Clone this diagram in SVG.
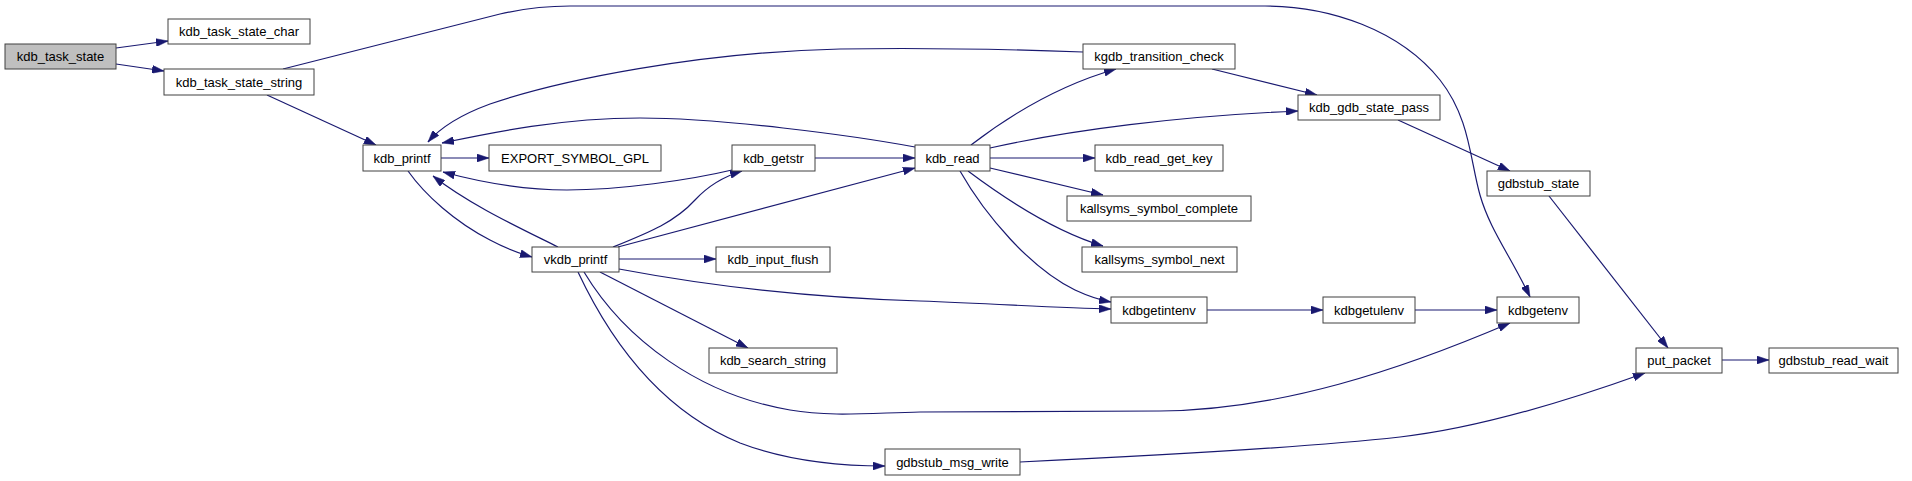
<svg xmlns="http://www.w3.org/2000/svg" width="1912" height="481" viewBox="0 0 1912 481">
<style>
.n rect{fill:#ffffff;stroke:#404040;stroke-width:1}
.n.root rect{fill:#bfbfbf}
.n text{font-family:"Liberation Sans",Arial,sans-serif;font-size:13px;fill:#000;text-anchor:middle}
#edges path{fill:none;stroke:#191970;stroke-width:1.2;marker-end:url(#arr)}
</style>
<defs>
<marker id="arr" viewBox="0 0 12 8" refX="12" refY="4" markerWidth="12" markerHeight="8" markerUnits="userSpaceOnUse" orient="auto">
<path d="M0,0 L12,4 L0,8 z" fill="#191970" stroke="#191970" stroke-width="0.5"/>
</marker>
</defs>
<rect width="1912" height="481" fill="#ffffff"/>
<g id="edges">
<path d="M116,48 L168,41"/>
<path d="M116,64 L164,71"/>
<path d="M283,69 L500,14 Q535,6 570,6 L1265,6 C1330,6 1400,30 1440,80 C1470,118 1470,160 1480,195 C1490,230 1510,255 1530,297"/>
<path d="M267,95 L376,145"/>
<path d="M441,158 L489,158"/>
<path d="M408,171 C425,195 455,222 490,240 C505,248 518,253 532,257"/>
<path d="M558,247 C520,228 470,205 433,176"/>
<path d="M732,170 C690,180 620,190 567,190 C520,190 480,182 443,172"/>
<path d="M915,147 C850,135 720,118 640,118 C560,118 490,133 442,143"/>
<path d="M1083,52 C1000,49 900,48 840,49 C700,52 560,80 490,104 C460,115 440,128 428,142"/>
<path d="M613,247 C650,232 675,222 695,200 C708,186 722,177 742,171"/>
<path d="M618,247 L915,168"/>
<path d="M619,259 L716,259"/>
<path d="M619,269 C720,288 820,298 920,301 C1000,304 1060,308 1111,309"/>
<path d="M600,272 L748,348"/>
<path d="M584,272 C625,340 700,395 790,410 C830,417 870,413 920,412 L1160,411 C1280,410 1400,370 1510,323"/>
<path d="M578,272 C610,340 660,410 740,443 C790,462 840,466 885,466"/>
<path d="M815,158 L915,158"/>
<path d="M971,145 C1010,115 1060,85 1116,69"/>
<path d="M990,148 C1070,130 1180,116 1298,111"/>
<path d="M990,158 L1095,158"/>
<path d="M990,168 L1103,195"/>
<path d="M968,171 C1000,195 1050,230 1103,246"/>
<path d="M960,171 C985,215 1030,268 1075,290 C1090,297 1100,300 1111,302"/>
<path d="M1212,69 L1317,95"/>
<path d="M1398,120 L1510,171"/>
<path d="M1549,196 L1668,348"/>
<path d="M1207,310 L1323,310"/>
<path d="M1415,310 L1497,310"/>
<path d="M1020,462 C1150,456 1300,448 1400,437 C1480,428 1570,400 1645,373"/>
<path d="M1722,360 L1769,360"/>
</g>
<g id="n0" class="n root"><rect x="5" y="44" width="111" height="25"/><text x="60.5" y="61">kdb_task_state</text></g>
<g id="n1" class="n"><rect x="168" y="19" width="142" height="25"/><text x="239" y="36">kdb_task_state_char</text></g>
<g id="n2" class="n"><rect x="164" y="69" width="150" height="26"/><text x="239" y="86.5">kdb_task_state_string</text></g>
<g id="n3" class="n"><rect x="363" y="145" width="78" height="26"/><text x="402" y="162.5">kdb_printf</text></g>
<g id="n4" class="n"><rect x="489" y="145" width="172" height="26"/><text x="575" y="162.5">EXPORT_SYMBOL_GPL</text></g>
<g id="n5" class="n"><rect x="732" y="145" width="83" height="26"/><text x="773.5" y="162.5">kdb_getstr</text></g>
<g id="n6" class="n"><rect x="915" y="145" width="75" height="26"/><text x="952.5" y="162.5">kdb_read</text></g>
<g id="n7" class="n"><rect x="1083" y="44" width="152" height="25"/><text x="1159" y="61">kgdb_transition_check</text></g>
<g id="n8" class="n"><rect x="1298" y="95" width="142" height="25"/><text x="1369" y="112">kdb_gdb_state_pass</text></g>
<g id="n9" class="n"><rect x="1095" y="145" width="128" height="26"/><text x="1159" y="162.5">kdb_read_get_key</text></g>
<g id="n10" class="n"><rect x="1067" y="196" width="184" height="25"/><text x="1159" y="213">kallsyms_symbol_complete</text></g>
<g id="n11" class="n"><rect x="1082" y="247" width="155" height="25"/><text x="1159.5" y="264">kallsyms_symbol_next</text></g>
<g id="n12" class="n"><rect x="1111" y="297" width="96" height="26"/><text x="1159" y="314.5">kdbgetintenv</text></g>
<g id="n13" class="n"><rect x="1323" y="297" width="92" height="26"/><text x="1369" y="314.5">kdbgetulenv</text></g>
<g id="n14" class="n"><rect x="1497" y="297" width="82" height="26"/><text x="1538" y="314.5">kdbgetenv</text></g>
<g id="n15" class="n"><rect x="1487" y="171" width="103" height="25"/><text x="1538.5" y="188">gdbstub_state</text></g>
<g id="n16" class="n"><rect x="1636" y="348" width="86" height="25"/><text x="1679" y="365">put_packet</text></g>
<g id="n17" class="n"><rect x="1769" y="348" width="129" height="25"/><text x="1833.5" y="365">gdbstub_read_wait</text></g>
<g id="n18" class="n"><rect x="532" y="247" width="87" height="25"/><text x="575.5" y="264">vkdb_printf</text></g>
<g id="n19" class="n"><rect x="716" y="247" width="114" height="25"/><text x="773" y="264">kdb_input_flush</text></g>
<g id="n20" class="n"><rect x="709" y="348" width="128" height="25"/><text x="773" y="365">kdb_search_string</text></g>
<g id="n21" class="n"><rect x="885" y="449" width="135" height="26"/><text x="952.5" y="466.5">gdbstub_msg_write</text></g>
</svg>
